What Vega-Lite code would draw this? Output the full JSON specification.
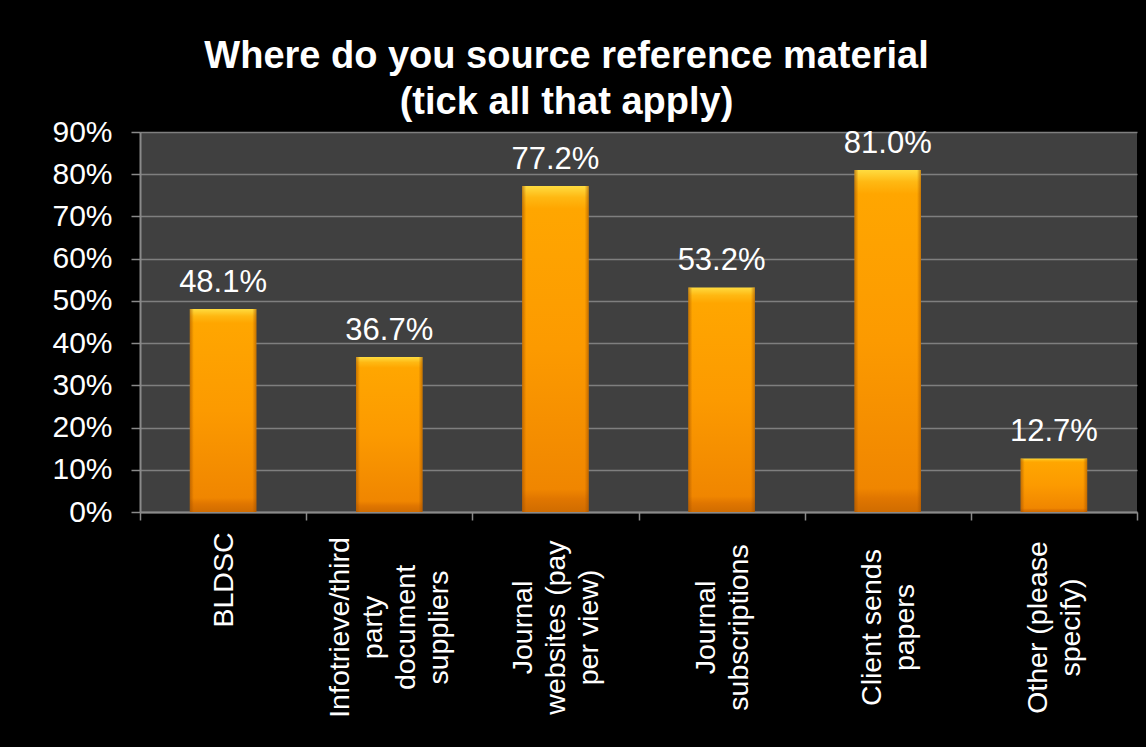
{
  "$schema": "https://vega.github.io/schema/vega-lite/v6.json",
  "width": 997,
  "height": 380,
  "autosize": "none",
  "padding": {"left": 140, "top": 132, "right": 9, "bottom": 235},
  "background": "#000000",
  "config": {
    "font": "Liberation Sans",
    "view": {"fill": "#404040", "stroke": null}
  },
  "title": {
    "text": ["Where do you source reference material", "(tick all that apply)"],
    "color": "#ffffff",
    "font": "Liberation Sans",
    "fontSize": 38,
    "fontWeight": "bold",
    "lineHeight": 46,
    "anchor": "middle",
    "frame": "group",
    "dx": -72,
    "offset": -5
  },
  "data": {
    "values": [
      {"source": "BLDSC", "value": 0.481},
      {"source": "Infotrieve/third\nparty\ndocument\nsuppliers", "value": 0.367},
      {"source": "Journal\nwebsites (pay\nper view)", "value": 0.772},
      {"source": "Journal\nsubscriptions", "value": 0.532},
      {"source": "Client sends\npapers", "value": 0.810},
      {"source": "Other (please\nspecify)", "value": 0.127}
    ]
  },
  "encoding": {
    "x": {
      "field": "source",
      "type": "nominal",
      "sort": null,
      "scale": {"paddingInner": 0, "paddingOuter": 0},
      "axis": {
        "title": null,
        "labelAngle": -90,
        "labelAlign": {
          "condition": {"test": "datum.value == 'BLDSC'", "value": "left"},
          "value": "center"
        },
        "labelBaseline": "middle",
        "labelFont": "Liberation Sans",
        "labelFontSize": 28.5,
        "labelColor": "#ffffff",
        "labelLineHeight": 33,
        "labelLimit": 0,
        "labelOverlap": false,
        "labelExpr": "split(datum.label, '\\n')",
        "labelPadding": 107,
        "labelOffset": {"expr": "-(length(split(datum.value, '\\n')) - 1) * 16.5"},
        "tickBand": "extent",
        "tickSize": 8,
        "tickColor": "#8a8a8a",
        "tickWidth": 1.5,
        "domainColor": "#8a8a8a",
        "domainWidth": 2,
        "grid": false
      }
    },
    "y": {
      "field": "value",
      "type": "quantitative",
      "scale": {"domain": [0, 0.9], "nice": false},
      "axis": {
        "title": null,
        "format": ".0%",
        "values": [0, 0.1, 0.2, 0.3, 0.4, 0.5, 0.6, 0.7, 0.8, 0.9],
        "labelFont": "Liberation Sans",
        "labelFontSize": 30,
        "labelColor": "#ffffff",
        "labelPadding": 19,
        "tickSize": 9,
        "tickColor": "#8a8a8a",
        "tickWidth": 1.5,
        "domainColor": "#8a8a8a",
        "domainWidth": 2,
        "gridColor": "#7f7f7f",
        "gridWidth": 1.5
      }
    }
  },
  "layer": [
    {
      "mark": {
        "type": "bar",
        "width": {"band": 0.4},
        "fill": {
          "gradient": "linear",
          "x1": 0, "y1": 0, "x2": 0, "y2": 1,
          "stops": [
            {"offset": 0, "color": "#ffdc40"},
            {"offset": 0.035, "color": "#ffb812"},
            {"offset": 0.07, "color": "#ffa600"},
            {"offset": 0.5, "color": "#fc9a00"},
            {"offset": 0.93, "color": "#f08600"},
            {"offset": 0.96, "color": "#e07600"},
            {"offset": 1, "color": "#d06c00"}
          ]
        }
      }
    },
    {
      "mark": {
        "type": "bar",
        "width": {"band": 0.4},
        "fill": {
          "gradient": "linear",
          "x1": 0, "y1": 0, "x2": 1, "y2": 0,
          "stops": [
            {"offset": 0, "color": "rgba(160,80,0,0.6)"},
            {"offset": 0.06, "color": "rgba(160,80,0,0)"},
            {"offset": 0.94, "color": "rgba(160,80,0,0)"},
            {"offset": 1, "color": "rgba(160,80,0,0.6)"}
          ]
        }
      }
    },
    {
      "mark": {
        "type": "text",
        "dy": -17,
        "baseline": "alphabetic",
        "align": "center",
        "font": "Liberation Sans",
        "fontSize": 31,
        "color": "#ffffff"
      },
      "encoding": {
        "text": {"field": "value", "type": "quantitative", "format": ".1%"}
      }
    }
  ]
}
